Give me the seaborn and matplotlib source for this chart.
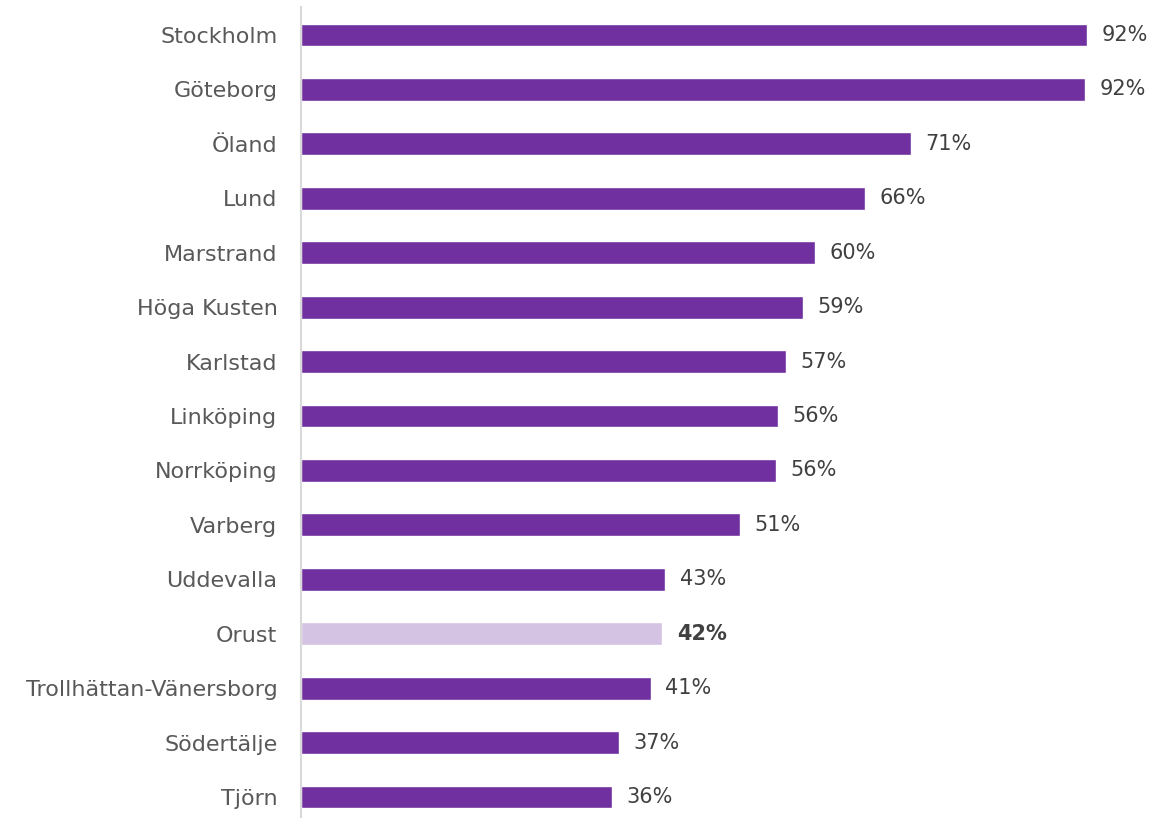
import matplotlib
matplotlib.use("Agg")
import matplotlib.pyplot as plt
import seaborn as sns
import pandas as pd

cities = ["Stockholm", "Göteborg", "Öland", "Lund", "Marstrand", "Höga Kusten",
          "Karlstad", "Linköping", "Norrköping", "Varberg", "Uddevalla", "Orust",
          "Trollhättan-Vänersborg", "Södertälje", "Tjörn"]
shares = [92.0, 91.7, 71.4, 66.0, 60.1, 58.7, 56.7, 55.8, 55.6, 51.4,
          42.6, 42.3, 40.9, 37.2, 36.4]
highlight = "Orust"

df = pd.DataFrame({"city": cities, "share": shares})
df["grupp"] = ["hl" if c == highlight else "std" for c in cities]

sns.set_style("white")
plt.rcParams["font.family"] = ["DejaVu Sans"]

fig = plt.figure(figsize=(11.52, 8.18), dpi=100)
ax = fig.add_axes([301 / 1152, 0, 846 / 1152, 1 - 7 / 818])

sns.barplot(data=df, x="share", y="city", hue="grupp", dodge=False,
            palette={"std": "#7030A0", "hl": "#D4C3E3"}, width=0.42,
            saturation=1, legend=False, ax=ax, orient="h")

ax.set_xlim(0, 99)
ax.set_ylim(14.386, -0.514)
ax.set_xlabel("")
ax.set_ylabel("")
ax.set_xticks([])
ax.tick_params(axis="y", length=0, pad=17, labelsize=16, labelcolor="#595959")
for s in ["top", "right", "bottom"]:
    ax.spines[s].set_visible(False)
ax.spines["left"].set_color("#D9D9D9")
ax.spines["left"].set_linewidth(1.5)

for i, (c, v) in enumerate(zip(cities, shares)):
    ax.text(v + 1.7, i, f"{round(v)}%", va="center", ha="left", fontsize=15,
            color="#404040", fontweight="bold" if c == highlight else "normal")

fig.savefig("out.png", dpi=100)
